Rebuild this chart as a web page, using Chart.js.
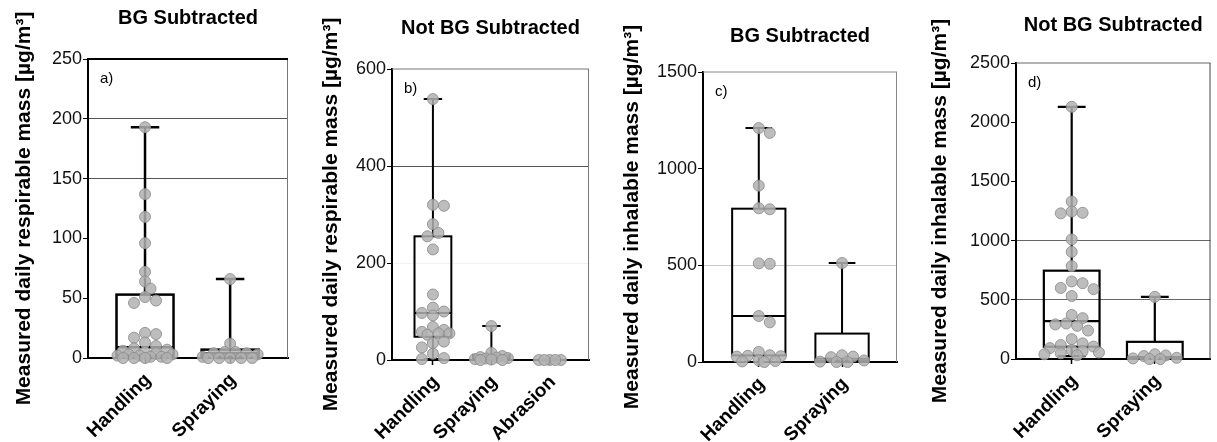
<!DOCTYPE html>
<html>
<head>
<meta charset="utf-8">
<script src="https://cdn.jsdelivr.net/npm/chart.js@4.4.1/dist/chart.umd.min.js"></script>
<style>
  html, body { margin: 0; padding: 0; background: #fff; }
  #wrap { position: relative; width: 1217px; height: 442px; overflow: hidden; }
  canvas { position: absolute; top: 0; }
</style>
</head>
<body>
<div id="wrap">
  <canvas id="pa" width="300" height="442" style="left:0px"></canvas>
  <canvas id="pb" width="310" height="442" style="left:300px"></canvas>
  <canvas id="pc" width="302" height="442" style="left:610px"></canvas>
  <canvas id="pd" width="305" height="442" style="left:912px"></canvas>
</div>
<script>
// ---- data ----
const catsTwo = ['Handling', 'Spraying'];
const catsThree = ['Handling', 'Spraying', 'Abrasion'];

// a) respirable, BG subtracted
const handlingA = [193, 137, 118, 96, 72, 64, 58, 51, 48, 46, 21, 20, 17, 13, 10, 8, 7, 6, 5, 4, 3, 3, 2, 2, 1, 1, 0, 0, 0, 0];
const sprayingA = [66, 12, 5, 5, 4, 4, 3, 1, 0, 0, 0, 0, 0];
const boxA = [[0, 2, 9, 53, 193], [0, 1, 4, 7, 66]]; // min, q1, median, q3, max
const ticksA = [0, 50, 100, 150, 200, 250];

// b) respirable, not BG subtracted
const handlingB = [538, 320, 318, 280, 262, 255, 228, 135, 108, 100, 97, 92, 68, 62, 58, 55, 55, 52, 38, 35, 26, 13, 4, 2];
const sprayingB = [70, 15, 8, 6, 5, 4, 3, 2, 1, 0, 0];
const abrasionB = [0, 0, 0, 0, 0];
const boxB = [[2, 48, 97, 255, 538], [0, 1, 5, 10, 70], [0, 0, 0, 0, 0]];
const ticksB = [0, 200, 400, 600];

// c) inhalable, BG subtracted
const handlingC = [1210, 1185, 912, 795, 790, 510, 508, 238, 205, 52, 35, 32, 30, 28, 8, 5, 3, 0];
const sprayingC = [512, 35, 28, 25, 8, 2, 0, 0];
const boxC = [[0, 34, 238, 793, 1210], [0, 5, 17, 147, 512]];
const ticksC = [0, 500, 1000, 1500];

// d) inhalable, not BG subtracted
const handlingD = [2130, 1330, 1245, 1235, 1230, 1010, 905, 785, 655, 640, 600, 590, 532, 372, 345, 300, 292, 280, 240, 168, 132, 118, 105, 92, 75, 65, 55, 48, 40, 32];
const sprayingD = [525, 40, 30, 25, 10, 5, 0, 0];
const boxD = [[25, 104, 320, 746, 2130], [0, 5, 15, 145, 525]];
const ticksD = [0, 500, 1000, 1500, 2000, 2500];

const FONT = "'Liberation Sans', Arial, sans-serif";
const respTitle = 'Measured daily respirable mass [µg/m³]';
const inhTitle = 'Measured daily inhalable mass [µg/m³]';

// simple beeswarm so dots don't pile on top of each other
function swarm(values, index, pxX, pxY, halfPx) {
  const placed = [];
  const out = [];
  const order = values.map((v, i) => i).sort((a, b) => values[b] - values[a]);
  const steps = [0, 1, -1, 2, -2, 3, -3, 4, -4, 5, -5];
  order.forEach(i => {
    const py = values[i] * pxY;
    let best = 0, bestGap = -1;
    for (const k of steps) {
      const off = k * 5.5;
      if (Math.abs(off) > halfPx) continue;
      let gap = Infinity;
      placed.forEach(q => { gap = Math.min(gap, Math.hypot(q.x - off, q.y - py)); });
      if (gap >= 9) { best = off; bestGap = gap; break; }
      if (gap > bestGap) { best = off; bestGap = gap; }
    }
    placed.push({ x: best, y: py });
    out.push({ x: index + best / pxX, y: values[i] });
  });
  return out;
}

function boxPlugin(p) {
  return {
    id: 'boxes',
    beforeDatasetsDraw(chart) {
      const xs = chart.scales.x, ys = chart.scales.y, ctx = chart.ctx;
      const a = chart.chartArea;
      ctx.save();
      // right + top frame
      ctx.strokeStyle = p.frame;
      ctx.lineWidth = 1;
      ctx.beginPath();
      ctx.moveTo(a.right - 0.5, a.bottom);
      ctx.lineTo(a.right - 0.5, a.top);
      ctx.stroke();
      ctx.strokeStyle = p.topColor;
      ctx.lineWidth = p.topWidth;
      ctx.beginPath();
      ctx.moveTo(a.left, a.top);
      ctx.lineTo(a.right, a.top);
      ctx.stroke();

      ctx.strokeStyle = '#000';
      ctx.lineWidth = p.lineW;
      p.stats.forEach((s, i) => {
        const cx = xs.getPixelForValue(i);
        const hw = xs.getPixelForValue(i + p.boxWidth / 2) - cx;
        const cw = hw * 0.5;
        const [mn, q1, md, q3, mx] = s.map(v => ys.getPixelForValue(v));
        ctx.beginPath();
        ctx.moveTo(cx, q3); ctx.lineTo(cx, mx);
        ctx.moveTo(cx - cw, mx); ctx.lineTo(cx + cw, mx);
        ctx.moveTo(cx, q1); ctx.lineTo(cx, mn);
        ctx.moveTo(cx - cw, mn); ctx.lineTo(cx + cw, mn);
        ctx.stroke();
        ctx.strokeRect(cx - hw, q3, 2 * hw, q1 - q3);
        ctx.beginPath();
        ctx.moveTo(cx - hw, md); ctx.lineTo(cx + hw, md);
        ctx.stroke();
      });
      ctx.restore();
    },
    afterDraw(chart) {
      const a = chart.chartArea, ctx = chart.ctx;
      ctx.save();
      ctx.fillStyle = '#000';
      ctx.textAlign = 'center';
      ctx.textBaseline = 'middle';
      ctx.font = 'bold 20px ' + FONT;
      ctx.fillText(p.title, (a.left + a.right) / 2, p.titleY);
      ctx.textAlign = 'left';
      ctx.font = '15px ' + FONT;
      ctx.fillText(p.letter, a.left + 12, a.top + 20);
      ctx.restore();
    }
  };
}

function makePanel(id, p) {
  const pxX = (p.right - p.left) / (p.xMax - p.xMin);
  const pxY = (p.bottom - p.top) / p.yMax;
  const datasets = p.groups.map((vals, i) => ({
    data: swarm(vals, i, pxX, pxY, p.boxWidth * pxX / 2),
    pointRadius: 5.5,
    pointBackgroundColor: 'rgba(178,178,178,0.85)',
    pointBorderColor: 'rgba(140,140,140,0.85)',
    pointBorderWidth: 1,
    clip: false
  }));
  const padL = p.titleX - 12;
  new Chart(document.getElementById(id), {
    type: 'scatter',
    data: { datasets },
    options: {
      responsive: false,
      animation: false,
      layout: { padding: { left: padL, top: p.top, right: p.width - p.right, bottom: 0 } },
      plugins: { legend: { display: false }, tooltip: { enabled: false } },
      scales: {
        x: {
          type: 'linear', min: p.xMin, max: p.xMax,
          afterBuildTicks: s => { s.ticks = p.cats.map((c, i) => ({ value: i })); },
          afterFit: s => { s.height = 442 - p.bottom; },
          ticks: {
            callback: v => p.cats[Math.round(v)],
            autoSkip: false, minRotation: 45, maxRotation: 45, labelOffset: 3,
            font: { family: FONT, size: 19, weight: 'bold' }, color: '#000', padding: 6
          },
          grid: { drawOnChartArea: false, drawTicks: true, tickLength: 5, tickColor: '#000', tickWidth: 1.5 },
          border: { display: true, color: '#000', width: 2 }
        },
        y: {
          min: 0, max: p.yMax,
          afterBuildTicks: s => { s.ticks = p.ticks.map(v => ({ value: v })); },
          afterFit: s => { s.width = p.left - padL; },
          ticks: { callback: v => String(v), font: { family: FONT, size: 18 }, color: '#111', padding: 1 },
          grid: {
            color: c => (c.tick && p.grid[c.tick.value]) || 'rgba(0,0,0,0)',
            lineWidth: 1, drawTicks: true, tickLength: 5, tickColor: '#000'
          },
          border: { display: true, color: '#000', width: 2 },
          title: {
            display: true, text: p.yTitle, color: '#000', padding: 0,
            font: { family: FONT, size: 21, weight: 'bold' }
          }
        }
      }
    },
    plugins: [boxPlugin(p)]
  });
}

makePanel('pa', {
  width: 300, left: 88, right: 288, top: 59, bottom: 358, titleX: 24, titleY: 18,
  xMin: -0.67, xMax: 1.68, yMax: 250, boxWidth: 0.67, lineW: 2.5,
  cats: catsTwo, groups: [handlingA, sprayingA], stats: boxA, ticks: ticksA,
  grid: { 150: '#555', 200: '#555' }, frame: '#777', topColor: '#000', topWidth: 2,
  title: 'BG Subtracted', letter: 'a)', yTitle: respTitle
});
makePanel('pb', {
  width: 310, left: 92, right: 289, top: 69, bottom: 360, titleX: 31, titleY: 28,
  xMin: -0.70, xMax: 2.67, yMax: 600, boxWidth: 0.63, lineW: 2,
  cats: catsThree, groups: [handlingB, sprayingB, abrasionB], stats: boxB, ticks: ticksB,
  grid: { 200: '#f2f2f2', 400: '#555' }, frame: '#777', topColor: '#777', topWidth: 1,
  title: 'Not BG Subtracted', letter: 'b)', yTitle: respTitle
});
makePanel('pc', {
  width: 302, left: 93, right: 287, top: 72, bottom: 362, titleX: 22, titleY: 36,
  xMin: -0.67, xMax: 1.66, yMax: 1500, boxWidth: 0.64, lineW: 2,
  cats: catsTwo, groups: [handlingC, sprayingC], stats: boxC, ticks: ticksC,
  grid: { 500: '#c8c8c8' }, frame: '#888', topColor: '#888', topWidth: 1,
  title: 'BG Subtracted', letter: 'c)', yTitle: inhTitle
});
makePanel('pd', {
  width: 305, left: 104, right: 300, top: 63, bottom: 359, titleX: 28, titleY: 25,
  xMin: -0.67, xMax: 1.67, yMax: 2500, boxWidth: 0.67, lineW: 2.2,
  cats: catsTwo, groups: [handlingD, sprayingD], stats: boxD, ticks: ticksD,
  grid: { 500: '#666', 1000: '#666' }, frame: '#444', topColor: '#666', topWidth: 1,
  title: 'Not BG Subtracted', letter: 'd)', yTitle: inhTitle
});
</script>
</body>
</html>
